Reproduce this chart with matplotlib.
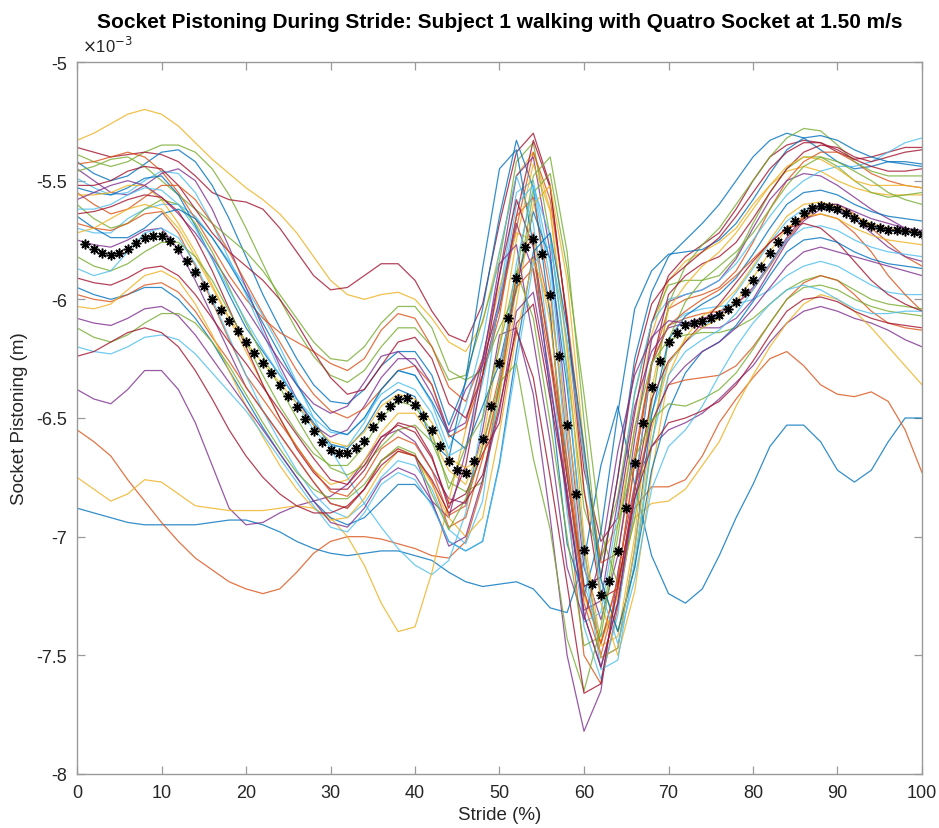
import numpy as np
import matplotlib
matplotlib.use('Agg')
import matplotlib.pyplot as plt

plt.rcParams['font.family'] = ['Liberation Sans', 'DejaVu Sans']

# stride percentage of the sampled trial curves
pct = list(range(0, 101, 2))

# socket pistoning of each stride, units of 1e-3 m
curve_01 = [-6.88, -6.90, -6.92, -6.94, -6.95, -6.95, -6.95, -6.95, -6.94, -6.93, -6.93, -6.95, -6.98, -7.02, -7.05, -7.07, -7.08, -7.07, -7.06, -7.06, -7.08, -7.10, -7.15, -7.19, -7.21, -7.20, -7.19, -7.22, -7.30, -7.32, -7.10, -6.70, -6.45, -6.78, -7.08, -7.24, -7.28, -7.22, -7.08, -6.92, -6.78, -6.62, -6.53, -6.53, -6.60, -6.72, -6.77, -6.72, -6.60, -6.50, -6.50]
curve_02 = [-6.55, -6.60, -6.66, -6.76, -6.85, -6.94, -7.02, -7.09, -7.14, -7.19, -7.22, -7.24, -7.22, -7.15, -7.07, -7.02, -7.00, -7.00, -7.01, -7.03, -7.05, -7.08, -7.09, -7.02, -6.78, -6.35, -5.90, -5.72, -6.05, -6.85, -7.50, -7.62, -7.30, -6.88, -6.79, -6.79, -6.76, -6.66, -6.52, -6.42, -6.33, -6.25, -6.22, -6.28, -6.36, -6.40, -6.41, -6.39, -6.43, -6.55, -6.73]
curve_03 = [-5.33, -5.30, -5.26, -5.22, -5.20, -5.22, -5.27, -5.34, -5.41, -5.47, -5.53, -5.58, -5.64, -5.72, -5.82, -5.92, -5.98, -6.00, -5.98, -5.97, -6.00, -6.08, -6.18, -6.22, -6.10, -5.80, -5.48, -5.38, -5.62, -6.20, -6.82, -7.08, -6.95, -6.55, -6.15, -5.92, -5.84, -5.80, -5.76, -5.70, -5.60, -5.52, -5.46, -5.44, -5.46, -5.50, -5.53, -5.55, -5.56, -5.56, -5.56]
curve_04 = [-6.38, -6.42, -6.44, -6.38, -6.30, -6.30, -6.38, -6.52, -6.70, -6.88, -6.95, -6.94, -6.90, -6.87, -6.85, -6.83, -6.78, -6.68, -6.58, -6.55, -6.60, -6.72, -6.84, -6.86, -6.55, -6.15, -6.12, -6.40, -6.92, -7.50, -7.82, -7.65, -7.15, -6.78, -6.62, -6.55, -6.52, -6.48, -6.42, -6.35, -6.28, -6.18, -6.10, -6.05, -6.03, -6.05, -6.08, -6.10, -6.13, -6.17, -6.20]
curve_05 = [-5.39, -5.42, -5.44, -5.42, -5.38, -5.35, -5.35, -5.38, -5.45, -5.56, -5.70, -5.85, -6.00, -6.13, -6.24, -6.32, -6.35, -6.30, -6.20, -6.12, -6.12, -6.20, -6.34, -6.32, -6.09, -5.84, -5.42, -5.34, -5.74, -6.29, -6.88, -7.10, -6.83, -6.40, -6.10, -5.94, -5.92, -5.92, -5.90, -5.82, -5.68, -5.55, -5.45, -5.40, -5.40, -5.44, -5.50, -5.55, -5.57, -5.56, -5.55]
curve_06 = [-5.70, -5.72, -5.72, -5.66, -5.62, -5.60, -5.60, -5.65, -5.74, -5.84, -5.95, -6.07, -6.20, -6.35, -6.50, -6.63, -6.75, -6.86, -6.96, -7.05, -7.12, -7.16, -7.10, -6.90, -6.50, -5.98, -5.55, -5.50, -5.85, -6.55, -7.20, -7.42, -7.28, -6.88, -6.48, -6.27, -6.18, -6.12, -6.06, -5.97, -5.87, -5.76, -5.67, -5.62, -5.61, -5.63, -5.66, -5.69, -5.71, -5.72, -5.72]
curve_07 = [-5.36, -5.38, -5.40, -5.39, -5.38, -5.39, -5.42, -5.48, -5.55, -5.58, -5.59, -5.62, -5.70, -5.80, -5.90, -5.96, -5.95, -5.90, -5.85, -5.85, -5.92, -6.05, -6.15, -6.18, -6.02, -5.68, -5.38, -5.30, -5.52, -6.10, -6.72, -7.02, -6.92, -6.48, -6.10, -5.90, -5.82, -5.77, -5.72, -5.62, -5.50, -5.40, -5.35, -5.33, -5.34, -5.38, -5.41, -5.40, -5.38, -5.36, -5.36]
curve_08 = [-5.42, -5.47, -5.50, -5.48, -5.43, -5.38, -5.37, -5.42, -5.52, -5.66, -5.82, -5.98, -6.12, -6.25, -6.36, -6.43, -6.44, -6.38, -6.28, -6.22, -6.22, -6.32, -6.53, -6.35, -6.04, -5.65, -5.33, -5.53, -6.07, -6.75, -7.21, -7.17, -6.75, -6.25, -5.97, -5.82, -5.75, -5.68, -5.60, -5.50, -5.40, -5.33, -5.30, -5.32, -5.37, -5.42, -5.45, -5.44, -5.42, -5.42, -5.43]
curve_09 = [-5.43, -5.42, -5.40, -5.38, -5.40, -5.46, -5.55, -5.66, -5.78, -5.90, -6.00, -6.08, -6.14, -6.18, -6.22, -6.27, -6.30, -6.25, -6.13, -6.06, -6.08, -6.20, -6.37, -6.43, -6.25, -6.04, -5.70, -5.38, -5.58, -6.07, -6.65, -7.11, -7.07, -6.65, -6.27, -6.04, -6.00, -5.98, -5.95, -5.88, -5.76, -5.62, -5.50, -5.42, -5.38, -5.38, -5.42, -5.47, -5.50, -5.52, -5.53]
curve_10 = [-6.75, -6.80, -6.85, -6.82, -6.76, -6.77, -6.82, -6.87, -6.88, -6.89, -6.89, -6.89, -6.88, -6.87, -6.88, -6.92, -7.00, -7.12, -7.28, -7.40, -7.38, -7.15, -6.85, -6.55, -6.25, -5.95, -5.72, -5.75, -6.10, -6.70, -7.25, -7.45, -7.25, -6.92, -6.86, -6.85, -6.80, -6.70, -6.60, -6.45, -6.32, -6.20, -6.10, -6.02, -5.98, -6.00, -6.05, -6.12, -6.20, -6.28, -6.36]
curve_11 = [-5.45, -5.50, -5.55, -5.56, -5.52, -5.47, -5.45, -5.50, -5.62, -5.78, -5.95, -6.12, -6.28, -6.42, -6.53, -6.58, -6.55, -6.45, -6.33, -6.25, -6.25, -6.36, -6.56, -6.52, -6.25, -5.90, -5.48, -5.40, -5.80, -6.48, -7.13, -7.35, -7.08, -6.59, -6.17, -6.01, -5.98, -5.96, -5.92, -5.83, -5.70, -5.58, -5.50, -5.47, -5.48, -5.52, -5.57, -5.62, -5.66, -5.70, -5.73]
curve_12 = [-5.46, -5.44, -5.41, -5.40, -5.44, -5.50, -5.56, -5.62, -5.68, -5.74, -5.80, -5.88, -5.98, -6.08, -6.18, -6.25, -6.26, -6.20, -6.10, -6.03, -6.03, -6.12, -6.30, -6.34, -6.30, -6.12, -5.97, -5.55, -5.47, -5.87, -6.40, -6.98, -7.20, -6.93, -6.44, -6.02, -5.86, -5.77, -5.70, -5.60, -5.50, -5.40, -5.32, -5.28, -5.29, -5.35, -5.42, -5.46, -5.48, -5.48, -5.48]
curve_13 = [-5.49, -5.53, -5.56, -5.55, -5.50, -5.46, -5.47, -5.55, -5.68, -5.83, -5.98, -6.14, -6.30, -6.44, -6.55, -6.62, -6.62, -6.52, -6.38, -6.30, -6.32, -6.44, -6.63, -6.45, -6.17, -5.80, -5.48, -5.68, -6.22, -6.90, -7.36, -7.32, -6.90, -6.39, -6.10, -6.00, -5.98, -5.96, -5.92, -5.85, -5.75, -5.65, -5.56, -5.50, -5.46, -5.44, -5.44, -5.42, -5.38, -5.34, -5.32]
curve_14 = [-5.52, -5.52, -5.50, -5.46, -5.44, -5.45, -5.52, -5.62, -5.72, -5.80, -5.86, -5.92, -6.00, -6.10, -6.22, -6.33, -6.40, -6.38, -6.28, -6.18, -6.16, -6.25, -6.44, -6.50, -6.32, -6.03, -5.65, -5.33, -5.53, -6.09, -6.80, -7.26, -7.22, -6.80, -6.28, -5.98, -5.90, -5.85, -5.82, -5.76, -5.66, -5.55, -5.45, -5.38, -5.35, -5.36, -5.40, -5.42, -5.40, -5.38, -5.37]
curve_15 = [-5.53, -5.55, -5.56, -5.53, -5.49, -5.48, -5.56, -5.69, -5.83, -5.98, -6.12, -6.22, -6.32, -6.42, -6.52, -6.61, -6.63, -6.55, -6.43, -6.38, -6.41, -6.60, -6.67, -6.34, -5.87, -5.45, -5.37, -5.77, -6.40, -7.03, -7.25, -6.98, -6.48, -6.04, -5.88, -5.81, -5.80, -5.79, -5.75, -5.68, -5.58, -5.47, -5.37, -5.32, -5.31, -5.33, -5.37, -5.40, -5.42, -5.43, -5.44]
curve_16 = [-5.55, -5.60, -5.64, -5.62, -5.57, -5.52, -5.52, -5.58, -5.68, -5.80, -5.93, -6.06, -6.18, -6.30, -6.40, -6.47, -6.50, -6.46, -6.38, -6.30, -6.28, -6.36, -6.58, -6.54, -6.32, -6.07, -5.65, -5.57, -5.97, -6.60, -7.23, -7.45, -7.18, -6.69, -6.27, -6.11, -6.08, -6.06, -6.05, -6.02, -5.96, -5.86, -5.75, -5.66, -5.60, -5.60, -5.64, -5.70, -5.76, -5.82, -5.86]
curve_17 = [-5.56, -5.56, -5.55, -5.52, -5.52, -5.58, -5.68, -5.80, -5.94, -6.08, -6.22, -6.36, -6.50, -6.62, -6.72, -6.78, -6.76, -6.68, -6.56, -6.48, -6.48, -6.58, -6.72, -6.78, -6.60, -6.19, -5.75, -5.43, -5.63, -6.22, -7.00, -7.46, -7.42, -7.00, -6.38, -6.04, -5.94, -5.86, -5.80, -5.72, -5.62, -5.52, -5.44, -5.40, -5.41, -5.45, -5.50, -5.52, -5.52, -5.52, -5.53]
curve_18 = [-5.58, -5.55, -5.52, -5.50, -5.52, -5.57, -5.64, -5.72, -5.82, -5.93, -6.04, -6.15, -6.26, -6.36, -6.44, -6.48, -6.45, -6.35, -6.24, -6.22, -6.28, -6.40, -6.56, -6.38, -6.28, -6.00, -5.68, -5.88, -6.34, -6.85, -7.31, -7.27, -6.85, -6.45, -6.22, -6.12, -6.10, -6.08, -6.06, -6.02, -5.95, -5.85, -5.74, -5.65, -5.60, -5.60, -5.63, -5.66, -5.68, -5.70, -5.71]
curve_19 = [-5.60, -5.66, -5.70, -5.68, -5.62, -5.58, -5.60, -5.68, -5.80, -5.95, -6.10, -6.24, -6.37, -6.50, -6.62, -6.71, -6.74, -6.70, -6.62, -6.55, -6.53, -6.60, -6.77, -6.81, -6.77, -6.41, -5.90, -5.48, -5.40, -5.80, -6.51, -7.18, -7.40, -7.13, -6.62, -6.17, -6.01, -5.92, -5.86, -5.80, -5.72, -5.62, -5.52, -5.44, -5.40, -5.42, -5.46, -5.50, -5.55, -5.58, -5.60]
curve_20 = [-5.62, -5.62, -5.60, -5.56, -5.53, -5.54, -5.60, -5.70, -5.83, -5.96, -6.09, -6.21, -6.32, -6.42, -6.50, -6.56, -6.57, -6.50, -6.40, -6.35, -6.38, -6.48, -6.66, -6.62, -6.35, -6.02, -5.60, -5.52, -5.92, -6.68, -7.38, -7.60, -7.33, -6.79, -6.27, -6.11, -6.06, -6.04, -6.03, -6.02, -6.00, -5.96, -5.90, -5.86, -5.84, -5.86, -5.90, -5.94, -5.97, -5.98, -5.98]
curve_21 = [-5.64, -5.63, -5.61, -5.58, -5.56, -5.57, -5.63, -5.74, -5.88, -6.04, -6.20, -6.36, -6.50, -6.63, -6.73, -6.80, -6.80, -6.72, -6.60, -6.52, -6.54, -6.66, -6.88, -6.70, -6.32, -5.90, -5.58, -5.78, -6.24, -6.75, -7.21, -7.17, -6.75, -6.29, -6.02, -5.92, -5.86, -5.80, -5.74, -5.65, -5.55, -5.45, -5.38, -5.34, -5.34, -5.37, -5.41, -5.44, -5.46, -5.46, -5.45]
curve_22 = [-5.65, -5.70, -5.74, -5.74, -5.70, -5.64, -5.62, -5.66, -5.74, -5.85, -5.97, -6.10, -6.23, -6.36, -6.47, -6.55, -6.57, -6.50, -6.38, -6.30, -6.32, -6.43, -6.57, -6.63, -6.45, -6.27, -5.95, -5.63, -5.83, -6.37, -7.05, -7.51, -7.47, -7.05, -6.49, -6.17, -6.07, -6.02, -5.98, -5.91, -5.81, -5.70, -5.60, -5.55, -5.54, -5.56, -5.60, -5.63, -5.65, -5.66, -5.67]
curve_23 = [-5.68, -5.70, -5.71, -5.68, -5.64, -5.63, -5.72, -5.86, -6.01, -6.17, -6.32, -6.42, -6.52, -6.62, -6.72, -6.81, -6.83, -6.75, -6.63, -6.58, -6.61, -6.72, -6.91, -6.87, -6.62, -6.32, -5.90, -5.82, -6.22, -6.68, -7.23, -7.45, -7.18, -6.69, -6.27, -6.11, -6.05, -6.00, -5.96, -5.90, -5.83, -5.76, -5.70, -5.66, -5.64, -5.66, -5.72, -5.80, -5.90, -5.98, -6.05]
curve_24 = [-5.72, -5.70, -5.66, -5.62, -5.60, -5.62, -5.70, -5.82, -5.95, -6.08, -6.18, -6.27, -6.35, -6.44, -6.53, -6.60, -6.62, -6.56, -6.45, -6.40, -6.42, -6.52, -6.67, -6.71, -6.67, -6.39, -6.02, -5.60, -5.52, -5.92, -6.62, -7.28, -7.50, -7.23, -6.74, -6.32, -6.16, -6.07, -6.03, -5.96, -5.86, -5.75, -5.65, -5.60, -5.59, -5.61, -5.65, -5.68, -5.70, -5.71, -5.72]
curve_25 = [-5.75, -5.77, -5.78, -5.75, -5.71, -5.70, -5.79, -5.92, -6.07, -6.22, -6.37, -6.47, -6.57, -6.67, -6.77, -6.86, -6.88, -6.80, -6.68, -6.63, -6.66, -6.85, -6.92, -6.64, -6.27, -5.85, -5.77, -6.17, -6.60, -7.13, -7.35, -7.08, -6.64, -6.32, -6.16, -6.09, -6.10, -6.12, -6.12, -6.08, -6.00, -5.88, -5.76, -5.67, -5.62, -5.62, -5.66, -5.72, -5.78, -5.82, -5.84]
curve_26 = [-5.82, -5.86, -5.88, -5.85, -5.80, -5.76, -5.76, -5.82, -5.92, -6.05, -6.18, -6.32, -6.45, -6.56, -6.65, -6.70, -6.70, -6.62, -6.50, -6.43, -6.45, -6.56, -6.80, -6.62, -6.50, -6.20, -5.88, -6.08, -6.52, -7.00, -7.46, -7.42, -7.00, -6.54, -6.27, -6.17, -6.15, -6.14, -6.14, -6.12, -6.08, -6.02, -5.96, -5.92, -5.90, -5.92, -5.96, -6.00, -6.02, -6.03, -6.04]
curve_27 = [-5.87, -5.90, -5.88, -5.80, -5.72, -5.70, -5.74, -5.85, -6.00, -6.16, -6.32, -6.47, -6.60, -6.72, -6.82, -6.89, -6.92, -6.86, -6.75, -6.68, -6.70, -6.80, -6.97, -7.03, -6.85, -6.34, -5.85, -5.53, -5.73, -6.32, -7.10, -7.56, -7.52, -7.10, -6.60, -6.32, -6.22, -6.17, -6.13, -6.06, -5.96, -5.85, -5.75, -5.70, -5.69, -5.71, -5.75, -5.78, -5.80, -5.81, -5.82]
curve_28 = [-5.91, -5.93, -5.94, -5.91, -5.87, -5.86, -5.90, -5.98, -6.08, -6.18, -6.27, -6.37, -6.47, -6.57, -6.67, -6.76, -6.78, -6.70, -6.58, -6.53, -6.56, -6.67, -6.86, -6.82, -6.65, -6.52, -6.10, -6.02, -6.42, -6.82, -7.33, -7.55, -7.28, -6.80, -6.42, -6.26, -6.18, -6.10, -6.02, -5.93, -5.84, -5.76, -5.70, -5.68, -5.70, -5.76, -5.84, -5.92, -5.98, -6.02, -6.05]
curve_29 = [-5.95, -5.98, -6.00, -5.98, -5.95, -5.95, -6.00, -6.08, -6.18, -6.30, -6.42, -6.54, -6.65, -6.75, -6.85, -6.92, -6.95, -6.92, -6.85, -6.78, -6.78, -6.86, -7.02, -7.06, -7.02, -6.69, -6.22, -5.80, -5.72, -6.12, -6.62, -7.18, -7.40, -7.13, -6.72, -6.47, -6.31, -6.22, -6.18, -6.11, -6.01, -5.90, -5.80, -5.75, -5.74, -5.76, -5.80, -5.83, -5.85, -5.86, -5.87]
curve_30 = [-5.98, -6.00, -6.01, -5.98, -5.94, -5.93, -5.97, -6.05, -6.16, -6.26, -6.37, -6.47, -6.57, -6.67, -6.77, -6.86, -6.88, -6.80, -6.68, -6.63, -6.66, -6.77, -6.96, -6.92, -6.67, -6.37, -5.95, -5.87, -6.27, -6.73, -7.28, -7.50, -7.23, -6.80, -6.52, -6.36, -6.34, -6.33, -6.32, -6.28, -6.20, -6.10, -6.00, -5.93, -5.90, -5.92, -5.98, -6.05, -6.10, -6.12, -6.13]
curve_31 = [-6.03, -6.04, -6.02, -5.96, -5.90, -5.88, -5.92, -6.02, -6.15, -6.30, -6.45, -6.58, -6.70, -6.80, -6.88, -6.93, -6.92, -6.84, -6.72, -6.64, -6.66, -6.78, -6.92, -7.00, -6.92, -6.56, -6.15, -5.83, -6.03, -6.50, -7.05, -7.51, -7.47, -7.05, -6.55, -6.27, -6.17, -6.12, -6.08, -6.01, -5.91, -5.80, -5.70, -5.65, -5.64, -5.66, -5.70, -5.73, -5.75, -5.76, -5.77]
curve_32 = [-6.08, -6.10, -6.11, -6.08, -6.04, -6.03, -6.07, -6.15, -6.25, -6.35, -6.45, -6.55, -6.65, -6.75, -6.85, -6.94, -6.96, -6.88, -6.76, -6.71, -6.74, -6.85, -7.04, -7.00, -6.76, -6.47, -6.05, -5.97, -6.37, -6.80, -7.33, -7.55, -7.28, -6.84, -6.52, -6.36, -6.28, -6.22, -6.18, -6.12, -6.04, -5.95, -5.86, -5.80, -5.78, -5.80, -5.82, -5.84, -5.86, -5.88, -5.90]
curve_33 = [-6.12, -6.16, -6.18, -6.15, -6.10, -6.06, -6.06, -6.10, -6.18, -6.28, -6.40, -6.52, -6.63, -6.73, -6.80, -6.84, -6.84, -6.78, -6.68, -6.62, -6.65, -6.82, -6.97, -6.84, -6.62, -6.35, -6.27, -6.67, -6.97, -7.43, -7.65, -7.38, -6.95, -6.67, -6.51, -6.44, -6.45, -6.42, -6.38, -6.31, -6.21, -6.10, -6.00, -5.95, -5.94, -5.96, -6.00, -6.03, -6.05, -6.06, -6.07]
curve_34 = [-6.20, -6.22, -6.23, -6.20, -6.16, -6.15, -6.17, -6.23, -6.31, -6.39, -6.47, -6.57, -6.67, -6.77, -6.87, -6.96, -6.98, -6.90, -6.78, -6.73, -6.76, -6.87, -7.02, -7.06, -7.02, -6.70, -6.27, -5.85, -5.77, -6.17, -6.67, -7.23, -7.45, -7.18, -6.80, -6.62, -6.55, -6.45, -6.32, -6.20, -6.10, -6.02, -5.96, -5.94, -5.96, -6.00, -6.04, -6.06, -6.06, -6.05, -6.05]
curve_35 = [-6.24, -6.22, -6.18, -6.14, -6.12, -6.14, -6.20, -6.30, -6.42, -6.55, -6.66, -6.75, -6.82, -6.87, -6.90, -6.90, -6.87, -6.80, -6.70, -6.64, -6.66, -6.76, -6.90, -6.85, -6.74, -6.45, -6.13, -6.33, -6.75, -7.20, -7.66, -7.62, -7.20, -6.84, -6.62, -6.52, -6.50, -6.47, -6.43, -6.36, -6.26, -6.15, -6.05, -6.00, -5.99, -6.01, -6.05, -6.08, -6.10, -6.11, -6.12]

curves = [curve_01, curve_02, curve_03, curve_04, curve_05, curve_06, curve_07,
          curve_08, curve_09, curve_10, curve_11, curve_12, curve_13, curve_14,
          curve_15, curve_16, curve_17, curve_18, curve_19, curve_20, curve_21,
          curve_22, curve_23, curve_24, curve_25, curve_26, curve_27, curve_28,
          curve_29, curve_30, curve_31, curve_32, curve_33, curve_34, curve_35]

# mean pistoning, one value per stride percent (1..100)
mean_pct = list(range(1, 101))
mean_curve = [
    -5.767, -5.788, -5.805, -5.812, -5.805, -5.788, -5.764, -5.743, -5.732, -5.732,
    -5.753, -5.788, -5.837, -5.886, -5.943, -5.998, -6.046, -6.092, -6.135, -6.180,
    -6.225, -6.268, -6.312, -6.361, -6.406, -6.455, -6.504, -6.556, -6.600, -6.634,
    -6.649, -6.649, -6.628, -6.596, -6.540, -6.490, -6.450, -6.420, -6.416, -6.445,
    -6.490, -6.550, -6.620, -6.680, -6.720, -6.730, -6.680, -6.590, -6.450, -6.270,
    -6.080, -5.910, -5.780, -5.746, -5.810, -5.980, -6.240, -6.530, -6.820, -7.055,
    -7.200, -7.245, -7.186, -7.060, -6.880, -6.690, -6.520, -6.370, -6.260, -6.180,
    -6.140, -6.110, -6.100, -6.090, -6.080, -6.065, -6.040, -6.010, -5.970, -5.920,
    -5.865, -5.805, -5.757, -5.708, -5.669, -5.637, -5.616, -5.606, -5.610, -5.620,
    -5.636, -5.657, -5.678, -5.690, -5.700, -5.706, -5.708, -5.710, -5.715, -5.725]

# default MATLAB line colour order
colors = ['#0072BD', '#D95319', '#EDB120', '#7E2F8E', '#77AC30', '#4DBEEE', '#A2142F']

fig = plt.figure(figsize=(9.39, 8.29), dpi=100)
ax = fig.add_axes([77/939, 54/829, 845/939, 712/829])

for i, c in enumerate(curves):
    ax.plot(pct, c, color=colors[i % 7], lw=0.9, alpha=0.8)

ax.plot(mean_pct, mean_curve, linestyle='none', marker=(8, 2, 0), markersize=7,
        markeredgewidth=1.1, color='black')

ax.set_xlim(0, 100)
ax.set_ylim(-8, -5)
ax.set_xticks(np.arange(0, 101, 10))
ax.set_yticks(np.arange(-8, -4.9, 0.5))
ax.set_yticklabels(['-8', '-7.5', '-7', '-6.5', '-6', '-5.5', '-5'])

for sp in ax.spines.values():
    sp.set_color('#9a9a9a')
    sp.set_linewidth(1.0)
ax.tick_params(direction='in', length=6, width=0.9, color='#9a9a9a',
               top=True, right=True, labelsize=13, labelcolor='#262626', pad=7)

ax.set_xlabel('Stride (%)', fontsize=13.5, color='#262626', labelpad=4)
ax.set_ylabel('Socket Pistoning (m)', fontsize=13.5, color='#262626', labelpad=6)

fig.text(82/939, 1 - 46/829, r'$\times$10$^{-3}$', fontsize=12, color='#262626',
         ha='left', va='center')
fig.text(500/939, 1 - 22/829,
         'Socket Pistoning During Stride: Subject 1 walking with Quatro Socket at 1.50 m/s',
         fontsize=15, fontweight='bold', ha='center', va='center', color='black')

fig.savefig('out.png', dpi=100)
